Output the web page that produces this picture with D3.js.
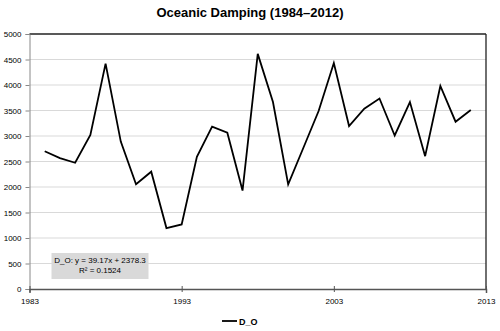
<!DOCTYPE html>
<html>
<head>
<meta charset="utf-8">
<script src="https://cdn.jsdelivr.net/npm/d3@7"></script>
<style>
  body { margin: 0; background: #fff; }
  svg { display: block; font-family: 'Liberation Sans', Arial, sans-serif; }
</style>
</head>
<body>
<svg width="500" height="331"></svg>
<script>
const years = d3.range(1984, 2013);
const dampingValues = [
  2700, 2565, 2475, 3020, 4420, 2890, 2055, 2300, 1195, 1265,
  2590, 3185, 3065, 1930, 4610, 3665, 2050, 2770, 3490, 4430,
  3195, 3535, 3735, 3010, 3665, 2605, 3980, 3280, 3510
];
const yTicks = [0, 500, 1000, 1500, 2000, 2500, 3000, 3500, 4000, 4500, 5000];
const xTicks = [1983, 1993, 2003, 2013];
const seriesName = 'D_O';
const trendText = ['D_O: y = 39.17x + 2378.3', 'R² = 0.1524'];

const svg = d3.select('svg');
const margin = { top: 34, right: 14, bottom: 42, left: 29.5 };
const width = +svg.attr('width');
const height = +svg.attr('height');
const innerWidth = width - margin.left - margin.right;
const innerHeight = height - margin.top - margin.bottom;

const data = years.map((y, i) => ({ year: y, value: dampingValues[i] }));

const xScale = d3.scaleLinear().domain([1983, 2013]).range([0, innerWidth]);
const yScale = d3.scaleLinear().domain([0, 5000]).range([innerHeight, 0]);

svg.append('text')
  .attr('x', width / 2)
  .attr('y', 17)
  .attr('text-anchor', 'middle')
  .attr('font-size', 13)
  .attr('font-weight', 'bold')
  .text('Oceanic Damping (1984–2012)');

const g = svg.append('g')
  .attr('transform', `translate(${margin.left}, ${margin.top})`);

// gridlines
g.append('g')
  .selectAll('line')
  .data(yTicks.filter(d => d > 0 && d < 5000))
  .enter()
  .append('line')
  .attr('x1', 0)
  .attr('x2', innerWidth)
  .attr('y1', d => yScale(d))
  .attr('y2', d => yScale(d))
  .attr('stroke', '#d9d9d9')
  .attr('stroke-width', 1);

// frame: top and right
g.append('line')
  .attr('x1', 0).attr('x2', innerWidth)
  .attr('y1', 0).attr('y2', 0)
  .attr('stroke', '#222').attr('stroke-width', 1.3);
g.append('line')
  .attr('x1', innerWidth).attr('x2', innerWidth)
  .attr('y1', 0).attr('y2', innerHeight)
  .attr('stroke', '#222').attr('stroke-width', 1.3);

// y axis
const yAxisG = g.append('g')
  .call(d3.axisLeft(yScale).tickValues(yTicks).tickFormat(d3.format('d')).tickSize(4).tickPadding(4));
yAxisG.select('.domain').attr('stroke', '#888');
yAxisG.selectAll('.tick line').attr('stroke', '#888').attr('x2', 0).attr('x1', -4);
yAxisG.selectAll('.tick text')
  .attr('font-size', 8)
  .attr('font-family', 'Liberation Sans, Arial, sans-serif')
  .attr('fill', '#000');

// x axis
const xAxisG = g.append('g')
  .attr('transform', `translate(0, ${innerHeight})`)
  .call(d3.axisBottom(xScale).tickValues(xTicks).tickFormat(d3.format('d')).tickSize(4).tickPadding(5));
xAxisG.select('.domain').attr('stroke', '#555').attr('stroke-width', 1.5);
xAxisG.selectAll('.tick line').attr('stroke', '#555').attr('y1', -3).attr('y2', 3);
xAxisG.selectAll('.tick text')
  .attr('font-size', 8)
  .attr('font-family', 'Liberation Sans, Arial, sans-serif')
  .attr('fill', '#000');

// series line
const line = d3.line()
  .x(d => xScale(d.year))
  .y(d => yScale(d.value));

g.append('path')
  .datum(data)
  .attr('fill', 'none')
  .attr('stroke', '#000')
  .attr('stroke-width', 1.8)
  .attr('stroke-linejoin', 'miter')
  .attr('d', line);

// trendline label
const boxX = 51.5 - margin.left;
const boxY = 253 - margin.top;
g.append('rect')
  .attr('x', boxX)
  .attr('y', boxY)
  .attr('width', 97)
  .attr('height', 26)
  .attr('fill', '#d9d9d9');
g.append('g')
  .selectAll('text')
  .data(trendText)
  .enter()
  .append('text')
  .attr('x', boxX + 48.5)
  .attr('y', (d, i) => boxY + 10 + i * 9.5)
  .attr('text-anchor', 'middle')
  .attr('font-size', 8)
  .text(d => d);

// legend
svg.append('line')
  .attr('x1', 222).attr('x2', 237)
  .attr('y1', 321).attr('y2', 321)
  .attr('stroke', '#000').attr('stroke-width', 1.8);
svg.append('text')
  .attr('x', 239)
  .attr('y', 324.5)
  .attr('font-size', 9)
  .attr('font-weight', 'bold')
  .text(seriesName);
</script>
</body>
</html>
